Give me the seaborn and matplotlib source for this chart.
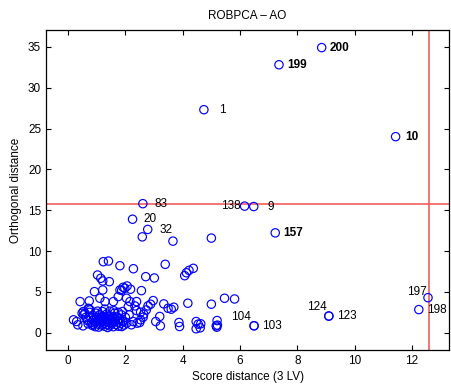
import matplotlib
matplotlib.use("Agg")
import matplotlib.pyplot as plt
import seaborn as sns
import pandas as pd

# labelled observations
lab_ids = ["200", "199", "1", "10", "83", "138", "9", "20", "32", "157",
           "197", "198", "123", "124", "103", "104"]
lab_sd = [8.85, 7.36, 4.74, 11.43, 2.61, 6.16, 6.48, 2.25, 2.78, 7.23,
          12.56, 12.24, 9.10, 9.10, 6.49, 6.49]
lab_od = [34.9, 32.8, 27.3, 24.0, 15.8, 15.5, 15.45, 13.9, 12.65, 12.23,
          4.3, 2.84, 2.04, 2.06, 0.85, 0.87]
bold_ids = ["200", "199", "10", "157"]

# remaining observations (score distance, orthogonal distance)
other_sd = [2.59, 3.66, 5.0, 1.23, 1.41, 1.81, 2.28, 3.39, 1.03, 1.14, 1.21, 1.44,
            2.71, 3.01, 4.07, 4.13, 4.22, 4.37, 0.92, 1.21, 1.81, 1.92, 2.06, 2.18,
            1.87, 1.98, 2.56, 0.42, 0.74, 1.11, 1.29, 1.58, 1.75, 2.04, 2.16, 2.39,
            2.97, 3.34, 3.6, 3.69, 4.18, 5.0, 5.46, 5.81, 2.1, 2.33, 2.39, 2.53,
            2.64, 2.62, 2.73, 2.79, 2.88, 3.49, 3.2, 3.06, 3.22, 3.87, 3.89, 4.47,
            4.54, 4.63, 4.47, 4.61, 5.2, 5.17, 5.19, 5.21, 1.87, 1.92, 2.21, 2.27,
            2.41, 2.5, 2.53, 2.13, 1.9, 0.19, 0.3, 0.34, 0.53, 0.59, 0.71, 0.77,
            0.52, 0.49,
            0.55, 0.62, 0.68, 0.7, 0.75, 0.8, 0.82, 0.85, 0.88, 0.9, 0.93, 0.95,
            0.98, 1.0, 1.02, 1.05, 1.07, 1.1, 1.12, 1.15, 1.17, 1.2, 1.22, 1.24,
            1.26, 1.28, 1.3, 1.32, 1.35, 1.37, 1.4, 1.42, 1.45, 1.47, 1.5, 1.52,
            1.55, 1.58, 1.6, 1.62, 1.65, 1.68, 1.7, 1.73, 1.76, 1.8, 1.83, 1.86,
            1.9, 1.95, 2.0, 2.05, 0.97, 1.13, 1.33, 1.38, 1.25, 1.43, 1.18, 1.08,
            1.48, 1.57, 0.87, 1.03, 1.6, 1.75, 0.72, 1.28, 1.46]
other_od = [11.74, 11.22, 11.59, 8.7, 8.78, 8.21, 7.84, 8.38, 7.07, 6.67, 6.34, 6.26,
            6.87, 6.71, 6.99, 7.35, 7.64, 7.89, 5.04, 5.24, 5.24, 5.57, 5.73, 5.33,
            5.2, 5.45, 5.16, 3.82, 3.9, 4.23, 3.82, 3.82, 4.43, 4.23, 3.82, 3.82,
            3.94, 3.54, 2.89, 3.13, 3.62, 3.5, 4.23, 4.14, 3.2, 3.29, 2.72, 2.52,
            2.28, 1.91, 2.8, 3.29, 3.5, 3.0, 2.0, 1.38, 0.85, 1.26, 0.77, 1.38,
            1.06, 1.1, 0.49, 0.61, 1.5, 0.85, 0.69, 0.94, 0.77, 1.38, 0.98, 1.38,
            1.18, 1.26, 1.59, 2.2, 2.6, 1.59, 1.38, 0.98, 2.6, 2.4, 3.0, 2.8,
            0.85, 2.4,
            2.2, 1.9, 1.5, 1.1, 2.5, 1.8, 1.3, 0.9, 2.1, 1.6, 1.2, 0.75,
            2.4, 1.9, 1.45, 1.05, 0.7, 2.2, 1.7, 1.3, 0.95, 2.6, 2.0, 1.55,
            1.15, 0.8, 1.85, 1.4, 2.3, 1.0, 1.65, 1.25, 0.85, 2.05, 1.5, 1.1,
            1.8, 0.75, 1.35, 2.4, 1.6, 1.0, 2.0, 1.3, 0.8, 1.7, 1.15, 2.2,
            1.45, 0.95, 1.9, 1.2, 1.35, 1.9, 1.7, 0.65, 1.75, 1.9, 1.45, 1.6,
            1.3, 1.95, 1.05, 2.65, 2.7, 2.5, 2.9, 2.9, 2.65]

sd_cutoff = 12.58
od_cutoff = 15.75

df = pd.DataFrame({"sd": lab_sd + other_sd, "od": lab_od + other_od})

sns.set_style("ticks")
plt.rcParams["font.family"] = ["Liberation Sans", "DejaVu Sans"]
plt.rcParams.update({"xtick.direction": "in", "ytick.direction": "in",
                     "text.color": "black", "axes.labelcolor": "black",
                     "xtick.color": "black", "ytick.color": "black",
                     "axes.edgecolor": "black"})

fig = plt.figure(figsize=(4.51, 3.85), dpi=100)
ax = fig.add_axes([0.102, 0.091, 0.894, 0.831])

sns.scatterplot(data=df, x="sd", y="od", ax=ax, marker="o", s=36,
                facecolors="none", edgecolor="blue", linewidth=0.85, zorder=3)

ax.axvline(sd_cutoff, color="#f05050", lw=1.1, zorder=2)
ax.axhline(od_cutoff, color="#f05050", lw=1.1, zorder=2)

# label offsets in pixels (dx, dy, ha)
offsets = {"200": (8, 0, "left"), "199": (8, 0, "left"), "1": (15, 0, "left"),
           "10": (10, 0, "left"), "83": (12, 0, "left"), "138": (-4, 0, "right"),
           "9": (14, 0, "left"), "20": (11, 0, "left"), "32": (12, -1, "left"),
           "157": (8, 0, "left"), "197": (-1, 6, "right"), "198": (8, 0, "left"),
           "123": (8, 0, "left"), "124": (-2, 9, "right"), "103": (8, 0, "left"),
           "104": (-3, 9, "right")}
for lid, x, y in zip(lab_ids, lab_sd, lab_od):
    dx, dy, ha = offsets[lid]
    ax.annotate(lid, (x, y), xytext=(dx, dy), textcoords="offset pixels",
                ha=ha, va="center", fontsize=8.5,
                fontweight="bold" if lid in bold_ids else "normal")

ax.set_xlim(-0.77, 13.3)
ax.set_ylim(-2.1, 37.05)
ax.set_xticks(range(0, 13, 2))
ax.set_yticks(range(0, 36, 5))
ax.tick_params(top=True, right=True, labelsize=8.5, length=3.5, width=0.8)
for s in ax.spines.values():
    s.set_linewidth(0.9)
ax.set_xlabel("Score distance (3 LV)", fontsize=8.5, labelpad=3)
ax.set_ylabel("Orthogonal distance", fontsize=8.5, labelpad=4)
ax.set_title("ROBPCA \u2013 AO", fontsize=8.5, pad=8)

fig.savefig("out.png", dpi=100)
